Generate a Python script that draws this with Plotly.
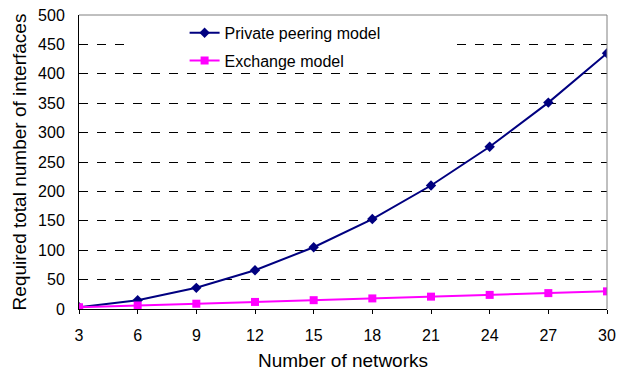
import plotly.graph_objects as go

networks = [3, 6, 9, 12, 15, 18, 21, 24, 27, 30]
private_peering = [3, 15, 36, 66, 105, 153, 210, 276, 351, 435]
exchange = [3, 6, 9, 12, 15, 18, 21, 24, 27, 30]
x_ticks = [3, 6, 9, 12, 15, 18, 21, 24, 27, 30]
y_ticks = [0, 50, 100, 150, 200, 250, 300, 350, 400, 450, 500]

FONT = "Liberation Sans, Arial, sans-serif"

fig = go.Figure()
fig.add_trace(go.Scatter(
    x=networks, y=private_peering, name="Private peering model",
    mode="lines+markers", legendgroup="a",
    line=dict(color="#000080", width=2),
    marker=dict(symbol="diamond", size=8, color="#000080"),
))
fig.add_trace(go.Scatter(
    x=networks, y=exchange, name="Exchange model",
    mode="lines+markers", legendgroup="b",
    line=dict(color="#FF00FF", width=2),
    marker=dict(symbol="square", size=8, color="#FF00FF"),
))

fig.update_layout(
    width=629, height=372,
    margin=dict(l=79, r=22, t=15, b=63, autoexpand=False),
    paper_bgcolor="white", plot_bgcolor="white",
    font=dict(family=FONT, size=16, color="black"),
    showlegend=True,
    legend=dict(x=0.2, y=0.997, xanchor="left", yanchor="top",
                bgcolor="rgba(0,0,0,0)", font=dict(size=16),
                tracegroupgap=4, itemwidth=30),
    xaxis=dict(range=[3, 30], tickvals=x_ticks, showgrid=False,
               showline=True, linecolor="black", linewidth=1,
               ticks="outside", ticklen=4, tickcolor="black",
               ticklabelstandoff=8, automargin=False,
               mirror=False, zeroline=False,
               title=dict(text="Number of networks", standoff=10),
               tickfont=dict(size=16)),
    yaxis=dict(range=[0, 500], tickvals=y_ticks, showgrid=True,
               gridcolor="black", griddash="dash", gridwidth=1,
               showline=True, linecolor="black", linewidth=1,
               ticks="", zeroline=False, ticklabelstandoff=10,
               automargin=False,
               title=dict(text="Required total number of interfaces", standoff=6),
               tickfont=dict(size=16)),
    shapes=[
        # white area behind the legend (hides the gridline there)
        dict(type="rect", xref="paper", yref="paper",
             x0=0.102, x1=0.712, y0=0.81, y1=0.997,
             fillcolor="white", opacity=1, line=dict(width=0, color="white"),
             layer="above"),
        # gray top and right border
        dict(type="line", xref="paper", yref="paper", x0=0, x1=1, y0=1, y1=1,
             line=dict(color="#808080", width=1)),
        dict(type="line", xref="paper", yref="paper", x0=1, x1=1, y0=0, y1=1,
             line=dict(color="#808080", width=1)),
    ],
)

fig.write_html("out.html")
